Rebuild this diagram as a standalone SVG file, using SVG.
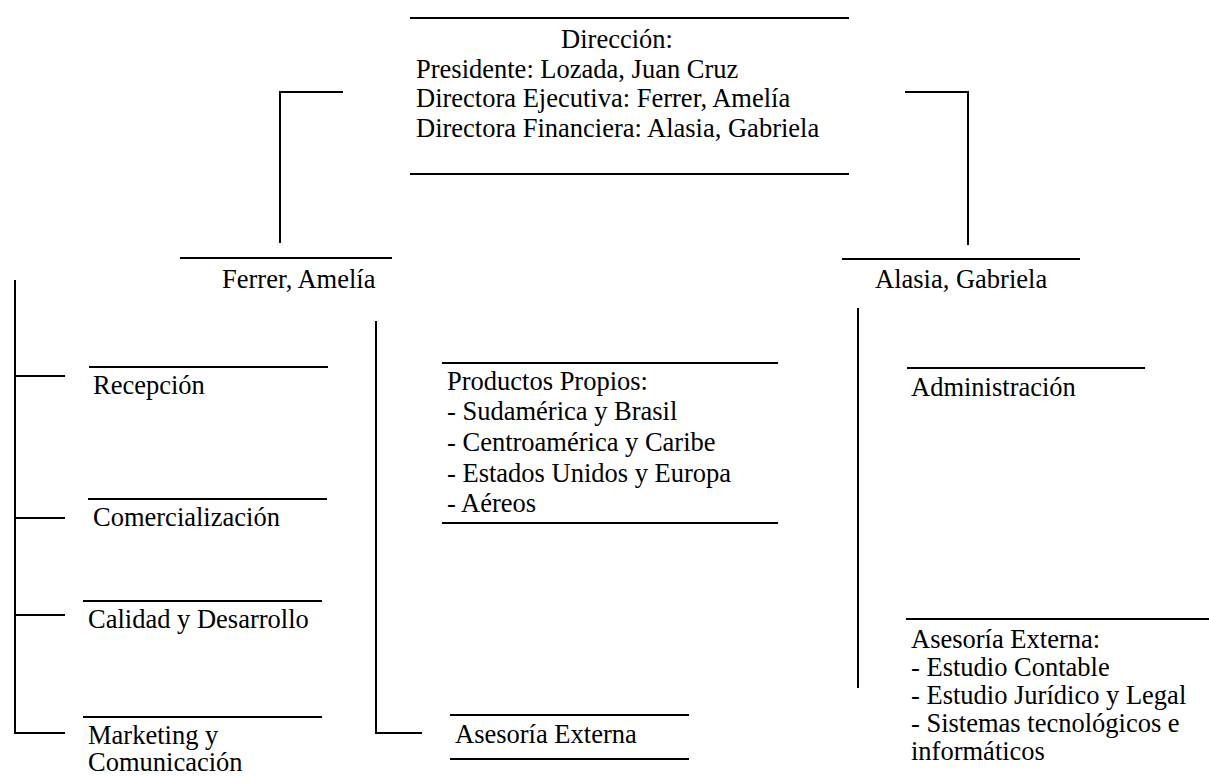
<svg xmlns="http://www.w3.org/2000/svg" width="1209" height="776" viewBox="0 0 1209 776">
<style>
text{font-family:"Liberation Serif","Times New Roman",serif;font-size:26.5px;fill:#000}
.ln{stroke:#000;stroke-width:2;fill:none}
.cn{stroke:#000;stroke-width:2;fill:none}
</style>
<rect width="1209" height="776" fill="#fff"/>
<g id="connectors">
<path class="cn" d="M343,92 H280 V243"/>
<path class="cn" d="M905,92 H968 V245"/>
<path class="cn" d="M15,280 V733 H65"/>
<path class="cn" d="M15,376 H65"/>
<path class="cn" d="M15,518 H65"/>
<path class="cn" d="M15,615 H65"/>
<path class="cn" d="M376,321 V733 H422"/>
<path class="cn" d="M858,308 V688"/>
</g>
<g id="direccion">
<line class="ln" x1="410" y1="18" x2="849" y2="18"/>
<line class="ln" x1="410" y1="174" x2="849" y2="174"/>
<text x="617" y="48" text-anchor="middle">Dirección:</text>
<text x="416" y="78">Presidente: Lozada, Juan Cruz</text>
<text x="416" y="107">Directora Ejecutiva: Ferrer, Amelía</text>
<text x="416" y="137">Directora Financiera: Alasia, Gabriela</text>
</g>
<g id="ferrer">
<line class="ln" x1="180" y1="258" x2="392" y2="258"/>
<text x="222" y="288">Ferrer, Amelía</text>
</g>
<g id="alasia">
<line class="ln" x1="842" y1="259" x2="1080" y2="259"/>
<text x="875" y="288">Alasia, Gabriela</text>
</g>
<g id="recepcion">
<line class="ln" x1="89" y1="367" x2="328" y2="367"/>
<text x="93" y="394">Recepción</text>
</g>
<g id="comercializacion">
<line class="ln" x1="88" y1="499" x2="327" y2="499"/>
<text x="93" y="526">Comercialización</text>
</g>
<g id="calidad">
<line class="ln" x1="83" y1="601" x2="322" y2="601"/>
<text x="88" y="628">Calidad y Desarrollo</text>
</g>
<g id="marketing">
<line class="ln" x1="83" y1="717" x2="322" y2="717"/>
<text x="88" y="744">Marketing y</text>
<text x="88" y="771">Comunicación</text>
</g>
<g id="productos">
<line class="ln" x1="442" y1="363" x2="778" y2="363"/>
<line class="ln" x1="442" y1="523" x2="778" y2="523"/>
<text x="447" y="390">Productos Propios:</text>
<text x="447" y="420">- Sudamérica y Brasil</text>
<text x="447" y="451">- Centroamérica y Caribe</text>
<text x="447" y="482">- Estados Unidos y Europa</text>
<text x="447" y="512">- Aéreos</text>
</g>
<g id="asesoria-externa-1">
<line class="ln" x1="450" y1="715" x2="689" y2="715"/>
<line class="ln" x1="450" y1="759" x2="689" y2="759"/>
<text x="455" y="743">Asesoría Externa</text>
</g>
<g id="administracion">
<line class="ln" x1="907" y1="368" x2="1145" y2="368"/>
<text x="911" y="396">Administración</text>
</g>
<g id="asesoria-externa-2">
<line class="ln" x1="906" y1="619" x2="1209" y2="619"/>
<text x="911" y="648">Asesoría Externa:</text>
<text x="911" y="676">- Estudio Contable</text>
<text x="911" y="704">- Estudio Jurídico y Legal</text>
<text x="911" y="732">- Sistemas tecnológicos e</text>
<text x="911" y="760">informáticos</text>
</g>
</svg>
